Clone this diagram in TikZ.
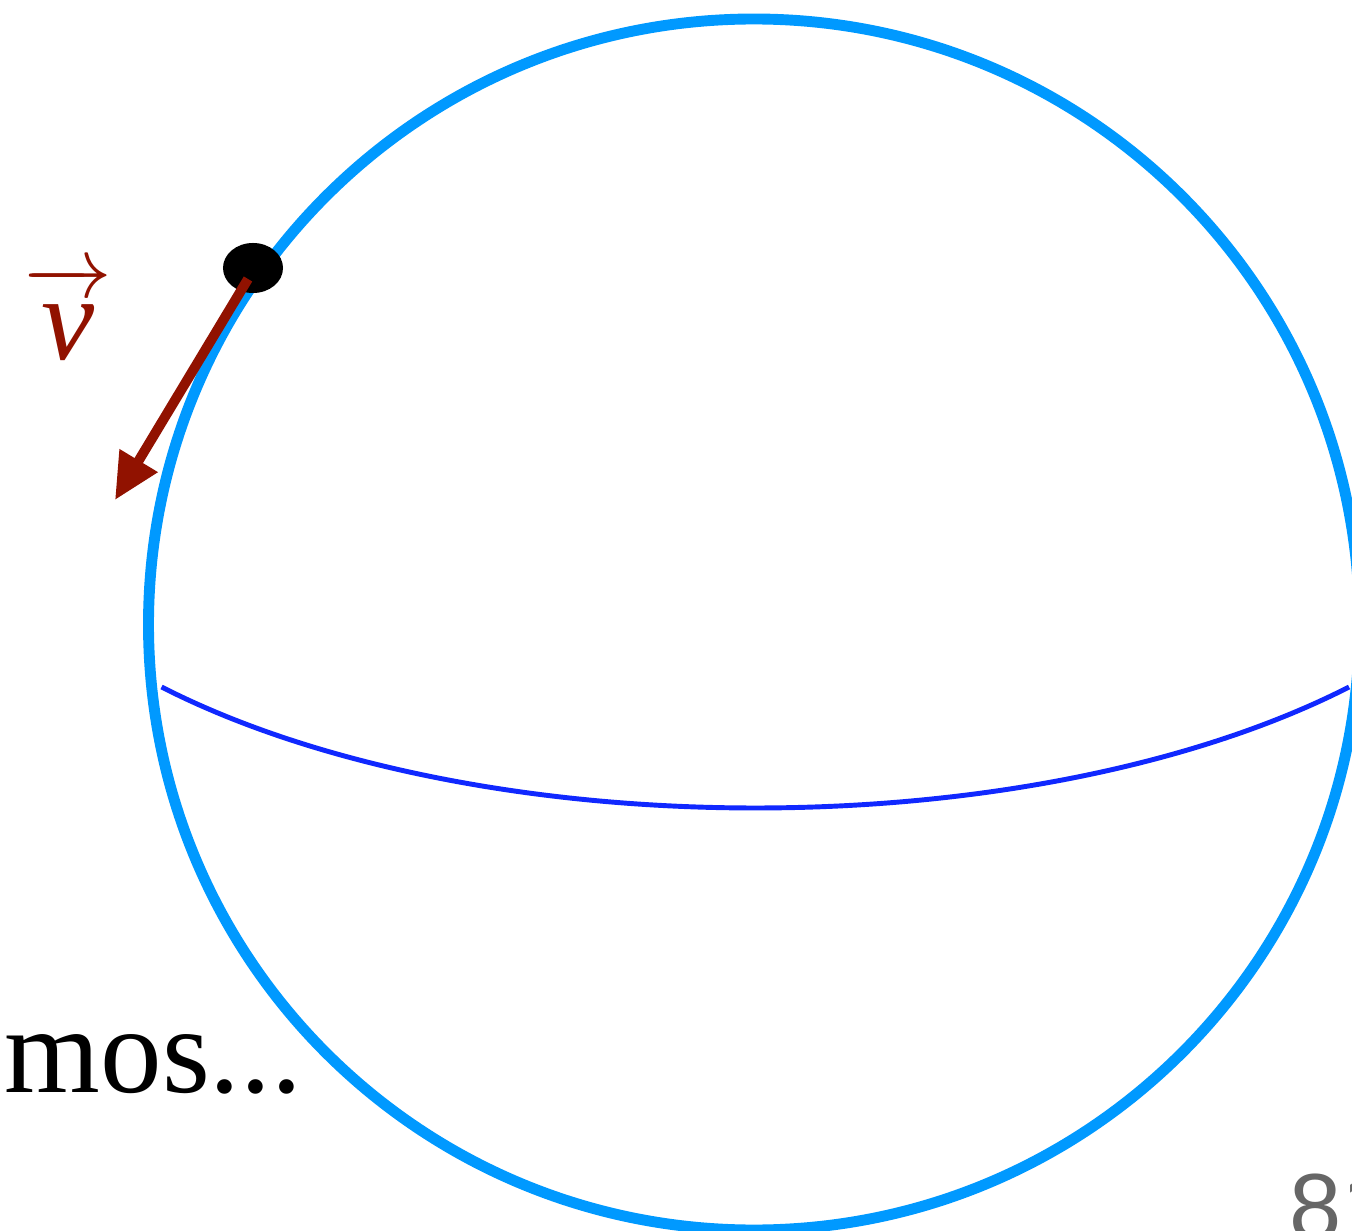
\documentclass[tikz,border=0pt]{standalone}
\usepackage{fontspec}
\setmainfont{Liberation Serif}
\newfontfamily\numfont{Liberation Sans}
\usetikzlibrary{arrows.meta,shapes.geometric}
\definecolor{sphereblue}{RGB}{0,153,255}
\definecolor{equatorblue}{RGB}{16,40,255}
\definecolor{vecred}{RGB}{145,18,0}
\definecolor{pagegray}{RGB}{102,102,102}
\tikzset{
  sphere/.style={draw=sphereblue, line width=3.1pt},
  equator/.style={draw=equatorblue, line width=1.4pt},
  particle/.style={ellipse, fill=black, minimum width=0.6cm, minimum height=0.5cm, inner sep=0pt},
  velocity/.style={draw=vecred, line width=2.8pt, line cap=butt, -{Triangle[length=0.46cm, width=0.42cm]}},
  veclabel/.style={text=vecred, inner sep=0pt, font=\fontsize{34}{40}\selectfont},
  bigtext/.style={inner sep=0pt, font=\fontsize{35}{40}\selectfont},
  pagenum/.style={inner sep=0pt, text=pagegray, font=\numfont\fontsize{26.7}{30}\selectfont}
}
\begin{document}
\begin{tikzpicture}[x=0.01cm, y=-0.01cm]
\clip (0,0) rectangle (1352,1231);
\fill[white] (0,0) rectangle (1352,1231);
% sphere outline
\coordinate (c) at (754,624.5);
\draw[sphere] (c) circle [radius=605.5];
% equator (part of a wide ellipse)
\coordinate (eqL) at (161.6,687);
\draw[equator] (eqL) arc [start angle=138.4, end angle=41.6, x radius=794, y radius=360];
% particle
\node[particle] (dot) at (253,268) {};
\coordinate (tip) at (115,500);
\coordinate (tail) at (248,279);
\draw[velocity] (tail) -- (tip);
% labels
\node[veclabel, anchor=base] (vlabel) at (68,360) {$\overrightarrow{\mkern-4mu\mbox{\itshape v\rule{0pt}{0.55em}}\mkern-4mu}$};
\node[bigtext, anchor=base west] (mos) at (4,1092) {mos...};
\node[pagenum, anchor=base west] (num) at (1289,1239) {81};
\end{tikzpicture}
\end{document}
